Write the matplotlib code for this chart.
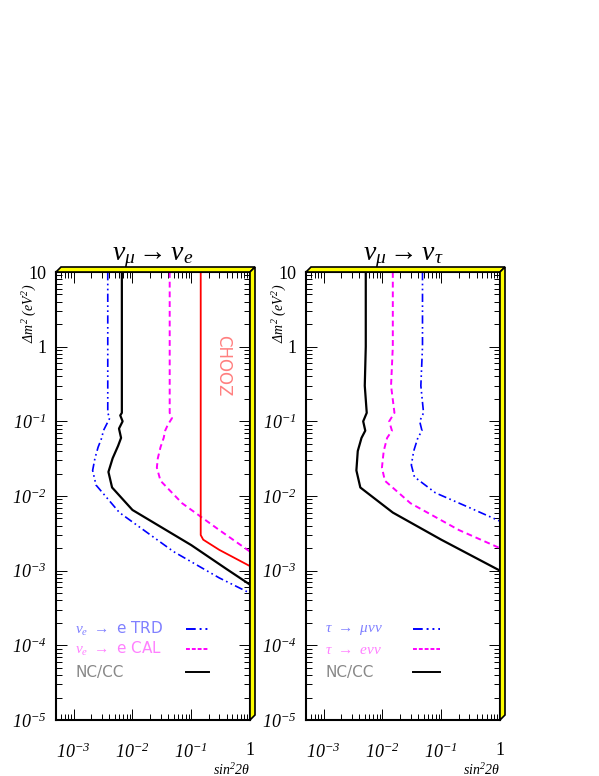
import matplotlib
matplotlib.use("Agg")
import matplotlib.pyplot as plt
from matplotlib.patches import Polygon

# Left panel curves (sin^2 2theta, dm^2)
L_trd_x = [3.8e-3,3.8e-3,4.1e-3,3.6e-3,3.2e-3,3.0e-3,2.6e-3,2.3e-3,2.1e-3,2.4e-3,6e-3,0.05,0.3,1.0]
L_trd_y = [10,0.13,0.11,0.09,0.075,0.06,0.045,0.032,0.022,0.014,6e-3,1.8e-3,8e-4,5e-4]
L_nc_x = [6.6e-3,6.6e-3,6.2e-3,6.8e-3,5.9e-3,6.4e-3,5.7e-3,4.6e-3,3.9e-3,4.5e-3,1e-2,0.1,0.4,1.0]
L_nc_y = [10,0.13,0.12,0.1,0.08,0.06,0.047,0.032,0.021,0.013,6.5e-3,2.2e-3,1.05e-3,6.5e-4]
L_cal_x = [0.043,0.043,0.047,0.040,0.036,0.034,0.030,0.027,0.026,0.03,0.07,0.3,1.0]
L_cal_y = [10,0.13,0.11,0.09,0.075,0.06,0.045,0.032,0.024,0.016,8e-3,3.5e-3,1.8e-3]
L_chooz_x = [0.145,0.145,0.16,0.3,1.0]
L_chooz_y = [10,3e-3,2.6e-3,1.9e-3,1.15e-3]

# Right panel curves
R_mu_x = [0.048,0.048,0.045,0.05,0.043,0.047,0.04,0.034,0.031,0.035,0.08,0.3,1.0]
R_mu_y = [10,1.0,0.3,0.13,0.1,0.075,0.06,0.04,0.026,0.018,0.011,7e-3,4.6e-3]
R_e_x = [0.015,0.015,0.014,0.016,0.013,0.0145,0.012,0.0105,0.0098,0.011,0.03,0.2,1.0]
R_e_y = [10,1.0,0.3,0.13,0.1,0.075,0.06,0.04,0.024,0.016,8e-3,3.5e-3,2e-3]
R_nc_x = [5.2e-3,5.2e-3,5.0e-3,5.4e-3,4.7e-3,5.1e-3,4.4e-3,3.8e-3,3.6e-3,4.2e-3,1.5e-2,0.1,1.0]
R_nc_y = [10,1.0,0.3,0.13,0.1,0.075,0.06,0.04,0.022,0.013,6e-3,2.6e-3,1e-3]

xticks = [1e-3,1e-2,1e-1,1]
xticklabels = [r'$10^{-3}$', r'$10^{-2}$', r'$10^{-1}$', '1']
yticks = [1e-5,1e-4,1e-3,1e-2,1e-1,1,10]
yticklabels = [r'$10^{-5}$', r'$10^{-4}$', r'$10^{-3}$', r'$10^{-2}$', r'$10^{-1}$', '1', '10']

plt.rcParams['mathtext.fontset'] = 'custom'
plt.rcParams['mathtext.rm'] = 'Liberation Serif:italic'
plt.rcParams['mathtext.it'] = 'Liberation Serif:italic'
plt.rcParams['font.family'] = ['Liberation Serif']

W, H = 599, 776
fig = plt.figure(figsize=(W/100, H/100), dpi=100)

def setup(ax):
    ax.set_xscale('log'); ax.set_yscale('log')
    ax.set_xlim(5e-4, 1); ax.set_ylim(1e-5, 10)
    ax.set_xticks(xticks); ax.set_xticklabels(xticklabels, fontsize=13)
    ax.set_yticks(yticks); ax.set_yticklabels(yticklabels, fontsize=13)
    ax.tick_params(which='both', direction='in', top=True, right=True, width=0.7)
    ax.tick_params(which='major', length=8)
    ax.tick_params(which='minor', length=4)
    ax.tick_params(axis='x', which='major', pad=16)
    ax.tick_params(axis='y', which='major', pad=7)
    for s in ax.spines.values():
        s.set_linewidth(1.5)
    ax.text(1.0, -0.095, r'$sin^2 2\theta$', transform=ax.transAxes, ha='right', va='top', fontsize=10)
    ax.text(-0.135, 0.975, r'$\Delta m^2\ (eV^2)$', transform=ax.transAxes, ha='center', va='top',
            rotation=90, fontsize=10)

def frame3d(left_px, right_px, top_px, bot_px, d=5):
    f = lambda x, y: (x/W, 1 - y/H)
    top = [f(left_px, top_px), f(right_px, top_px), f(right_px+d, top_px-d), f(left_px+d, top_px-d)]
    side = [f(right_px, top_px), f(right_px+d, top_px-d), f(right_px+d, bot_px-d), f(right_px, bot_px)]
    for pts in (top, side):
        fig.patches.append(Polygon(pts, closed=True, transform=fig.transFigure,
                                   facecolor='#ffff00', edgecolor='black', lw=1.2))

top_px, bot_px = 272, 720
axL = fig.add_axes([56/W, 1-bot_px/H, 194/W, 448/H])
axR = fig.add_axes([306/W, 1-bot_px/H, 194/W, 448/H])
setup(axL); setup(axR)
frame3d(56, 250, top_px, bot_px)
frame3d(306, 500, top_px, bot_px)

dashdot = (0, (5, 2, 1, 2, 1, 2))
axL.plot(L_trd_x, L_trd_y, color='blue', lw=1.2, linestyle=dashdot)
axL.plot(L_nc_x, L_nc_y, color='black', lw=1.6)
axL.plot(L_cal_x, L_cal_y, color='magenta', lw=1.4, linestyle=(0, (3, 2)))
axL.plot(L_chooz_x, L_chooz_y, color='red', lw=1.3)
axL.text(0.86, 0.79, 'CHOOZ', transform=axL.transAxes, rotation=-90, color='#ff8080',
         fontsize=12, family='DejaVu Sans', ha='center', va='center')

axR.plot(R_mu_x, R_mu_y, color='blue', lw=1.2, linestyle=dashdot)
axR.plot(R_e_x, R_e_y, color='magenta', lw=1.4, linestyle=(0, (3, 2)))
axR.plot(R_nc_x, R_nc_y, color='black', lw=1.6)

def legend(ax, labels, colors, linecolors, styles, xl0, xl1):
    ys = [0.203, 0.158, 0.107]
    for lab, c, lc, st, y in zip(labels, colors, linecolors, styles, ys):
        ax.text(0.10, y, lab, transform=ax.transAxes, color=c, fontsize=11, va='center',
                family='DejaVu Sans')
        ax.plot([xl0, xl1], [y, y], transform=ax.transAxes, color=lc, linestyle=st, lw=1.4)

legend(axL, [r'$\nu_{\rm e}$ $\rightarrow$ e TRD', r'$\nu_{\rm e}$ $\rightarrow$ e CAL', 'NC/CC'],
       ['#8080ff', '#ff80ff', '#888888'], ['blue', 'magenta', 'black'],
       [dashdot, (0, (2, 1)), '-'], 0.67, 0.79)
legend(axR, [r'$\tau$ $\rightarrow$ $\mu\nu\nu$', r'$\tau$ $\rightarrow$ $e\nu\nu$', 'NC/CC'],
       ['#8080ff', '#ff80ff', '#888888'], ['blue', 'magenta', 'black'],
       [dashdot, (0, (2, 1)), '-'], 0.55, 0.69)

fig.text(153/W, 1-257/H, r'$\mathrm{\nu_\mu \rightarrow \nu}_e$', ha='center', va='center', fontsize=20)
fig.text(403/W, 1-257/H, r'$\mathrm{\nu_\mu \rightarrow \nu_\tau}$', ha='center', va='center', fontsize=20)

fig.savefig('out.png', dpi=100)
